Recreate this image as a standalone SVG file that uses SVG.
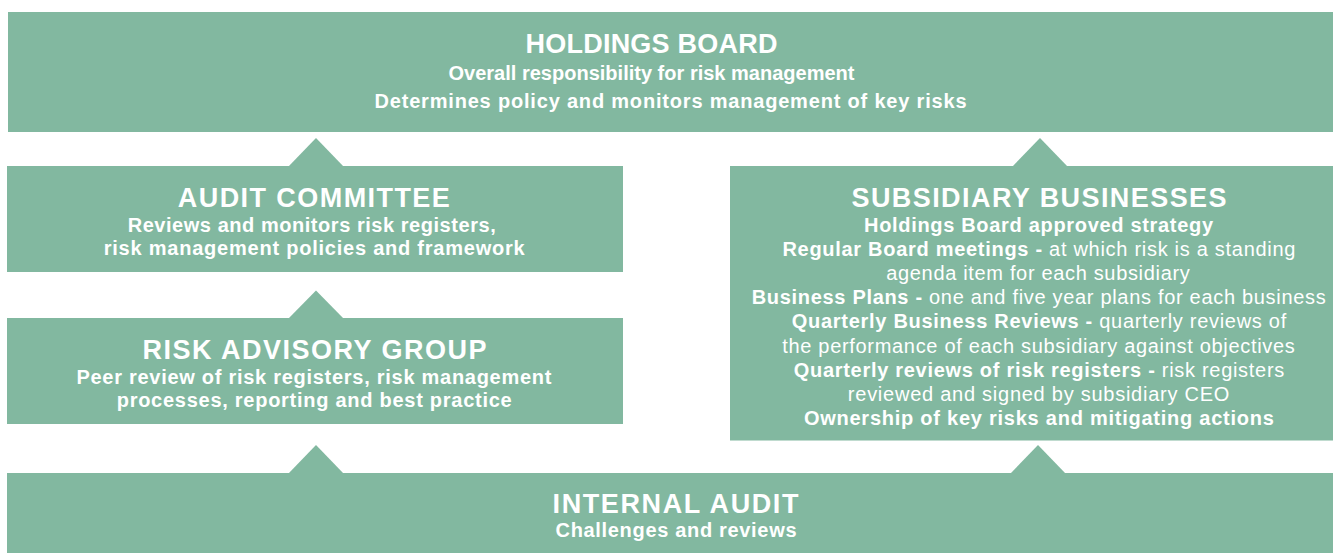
<svg xmlns="http://www.w3.org/2000/svg" width="1333" height="553" viewBox="0 0 1333 553">
  <style>
    .box { fill: #82b8a0; }
    .notch { fill: #82b8a0; }
    text { fill: #ffffff; font-family: "Liberation Sans", Arial, sans-serif; text-anchor: middle; }
    .title { font-size: 27px; font-weight: bold; }
    .body { font-size: 20px; font-weight: bold; }
    .reg { font-weight: normal; }
  </style>

  <!-- upward notches linking each tier to the one above -->
  <g id="connectors">
    <polygon class="notch" points="288,167 316,138 344,167"/>
    <polygon class="notch" points="1012,167 1040,138 1068,167"/>
    <polygon class="notch" points="288,319 316,290.5 344,319"/>
    <polygon class="notch" points="288,474 316,445 344,474"/>
    <polygon class="notch" points="1010,474 1038,445 1066,474"/>
  </g>

  <g id="holdings-board">
    <rect class="box" x="8" y="12" width="1325" height="120"/>
    <text class="title" x="651.5" y="53" textLength="252" lengthAdjust="spacing">HOLDINGS BOARD</text>
    <text class="body" x="651.5" y="79.5" textLength="406" lengthAdjust="spacing">Overall responsibility for risk management</text>
    <text class="body" x="670.5" y="107.5" textLength="592" lengthAdjust="spacing">Determines policy and monitors management of key risks</text>
  </g>

  <g id="audit-committee">
    <rect class="box" x="7" y="166" width="616" height="106"/>
    <text class="title" x="313.8" y="207" textLength="272" lengthAdjust="spacing">AUDIT COMMITTEE</text>
    <text class="body" x="311.7" y="231.7" textLength="368" lengthAdjust="spacing">Reviews and monitors risk registers,</text>
    <text class="body" x="314.2" y="255" textLength="421" lengthAdjust="spacing">risk management policies and framework</text>
  </g>

  <g id="risk-advisory-group">
    <rect class="box" x="7" y="318" width="616" height="106"/>
    <text class="title" x="314.5" y="359" textLength="344" lengthAdjust="spacing">RISK ADVISORY GROUP</text>
    <text class="body" x="313.9" y="384" textLength="475" lengthAdjust="spacing">Peer review of risk registers, risk management</text>
    <text class="body" x="314.2" y="407" textLength="395" lengthAdjust="spacing">processes, reporting and best practice</text>
  </g>

  <g id="subsidiary-businesses">
    <rect class="box" x="730" y="166" width="603" height="274.5"/>
    <text class="title" x="1039" y="207" textLength="375" lengthAdjust="spacing">SUBSIDIARY BUSINESSES</text>
    <text class="body" x="1038.5" y="231.7" textLength="349" lengthAdjust="spacing">Holdings Board approved strategy</text>
    <text class="body" x="1038.9" y="255.5" textLength="513" lengthAdjust="spacing">Regular Board meetings - <tspan class="reg">at which risk is a standing</tspan></text>
    <text class="body reg" x="1038" y="279.5" textLength="303.5" lengthAdjust="spacing">agenda item for each subsidiary</text>
    <text class="body" x="1038.7" y="303.5" textLength="574" lengthAdjust="spacing">Business Plans - <tspan class="reg">one and five year plans for each business</tspan></text>
    <text class="body" x="1039" y="328" textLength="494.5" lengthAdjust="spacing">Quarterly Business Reviews - <tspan class="reg">quarterly reviews of</tspan></text>
    <text class="body reg" x="1038.5" y="352.5" textLength="512.5" lengthAdjust="spacing">the performance of each subsidiary against objectives</text>
    <text class="body" x="1039" y="376.7" textLength="490.5" lengthAdjust="spacing">Quarterly reviews of risk registers - <tspan class="reg">risk registers</tspan></text>
    <text class="body reg" x="1038.6" y="400.7" textLength="381.5" lengthAdjust="spacing">reviewed and signed by subsidiary CEO</text>
    <text class="body" x="1038.9" y="425" textLength="470" lengthAdjust="spacing">Ownership of key risks and mitigating actions</text>
  </g>

  <g id="internal-audit">
    <rect class="box" x="7" y="473" width="1326" height="80"/>
    <text class="title" x="675.5" y="513.3" textLength="246" lengthAdjust="spacing">INTERNAL AUDIT</text>
    <text class="body" x="676" y="536.7" textLength="241" lengthAdjust="spacing">Challenges and reviews</text>
  </g>
</svg>
